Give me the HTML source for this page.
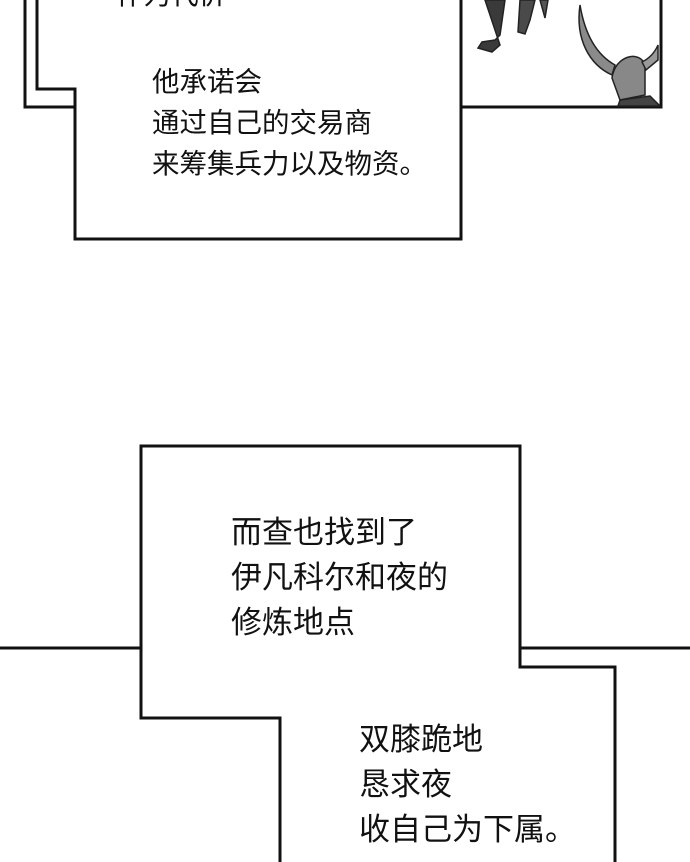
<!DOCTYPE html>
<html><head><meta charset="utf-8"><style>
html,body{margin:0;padding:0;background:#fff;}
body{width:690px;height:862px;position:relative;overflow:hidden;font-family:"Liberation Sans","Noto Sans CJK SC",sans-serif;color:#111;}
.t{position:absolute;font-size:27.5px;line-height:41px;white-space:nowrap;}
.b{font-size:31px;line-height:45px;}
</style></head><body>
<svg width="690" height="862" style="position:absolute;left:0;top:0">
<g fill="none" stroke="#111" stroke-width="3">
<polyline points="25,0 25,107 75,107"/>
<polyline points="37,0 37,89 75,89 75,239 461,239 461,0"/>
<polyline points="461,107 661,107 661,0"/>
<polyline points="0,648 141,648"/>
<polyline points="141,648 141,446 520,446 520,667 615,667 615,862"/>
<polyline points="520,648 690,648"/>
<polyline points="141,648 141,718 280,718 280,862"/>
</g>
<g stroke="#222" stroke-width="1.5">
<path d="M485 0 L505 0 L500 35 L495 40 L482 42 L478 48 L492 52 L500 45 Z" fill="#3a3a3a"/>
<path d="M520 0 L535 0 L530 20 L525 34 L518 32 Z" fill="#4a4a4a"/>
<path d="M540 0 L548 0 L545 18 Z" fill="#555"/>
<path d="M580 5 C575 40 590 65 612 75 L615 65 C597 55 585 35 580 5 Z" fill="#8a8a8a"/>
<path d="M612 78 C615 55 640 50 645 65 L645 95 L620 100 Z" fill="#888"/>
<path d="M642 62 C650 58 655 52 658 45 L658 60 L646 70 Z" fill="#999"/>
<path d="M620 100 L650 96 L660 106 L618 106 Z" fill="#444"/>
</g>
</svg>
<div class="t" style="left:116px;top:-26px;">作为代价</div>
<div class="t" style="left:152px;top:61px;">他承诺会<br>通过自己的交易商<br>来筹集兵力以及物资。</div>
<div class="t b" style="left:231px;top:510px;">而查也找到了<br>伊凡科尔和夜的<br>修炼地点</div>
<div class="t b" style="left:359px;top:717px;">双膝跪地<br>恳求夜<br>收自己为下属。</div>
</body></html>
